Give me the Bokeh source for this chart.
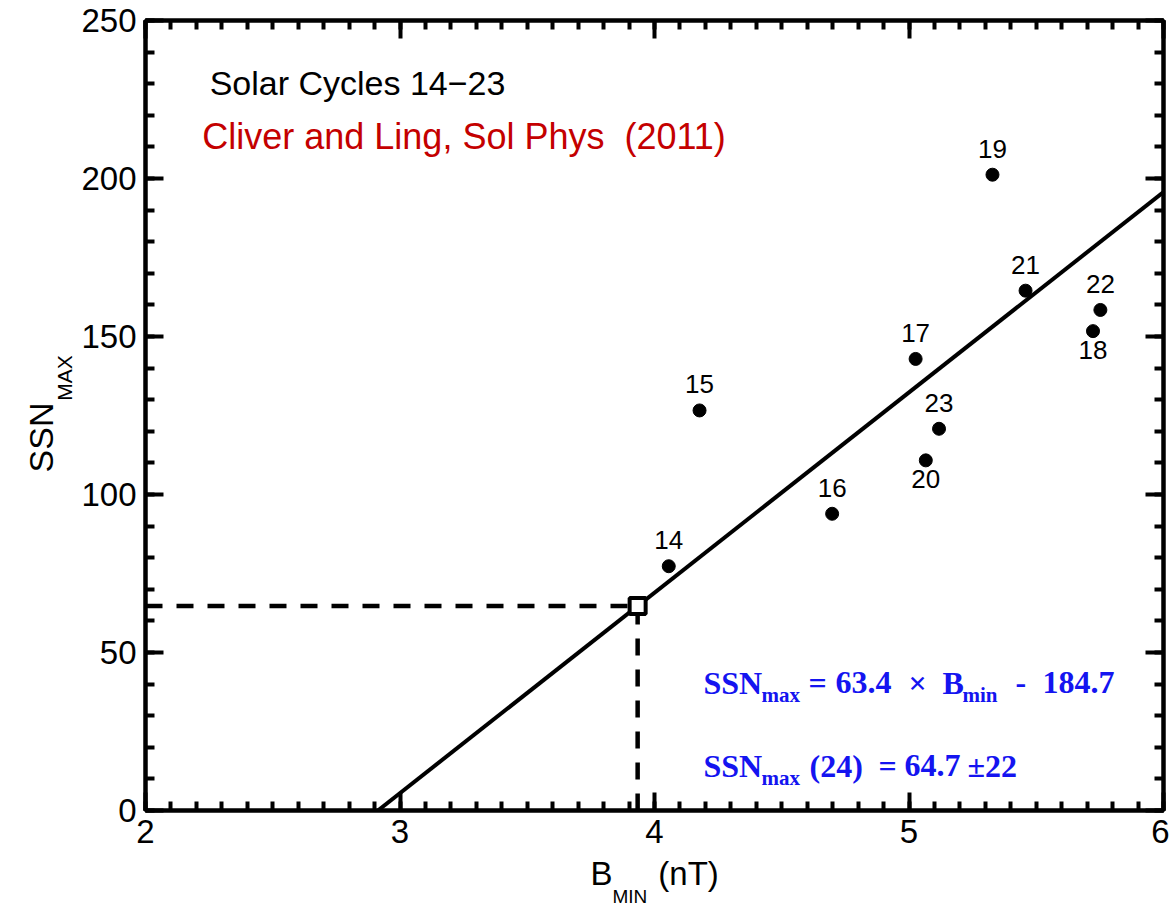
import math
from bokeh.plotting import figure
from bokeh.models import (Range1d, LinearAxis, SingleIntervalTicker, Label,
                          ColumnDataSource, CustomJSTickFormatter)
from bokeh.core.properties import value
from bokeh.embed import file_html
from bokeh.resources import INLINE

# Solar cycles 14-23: minimum interplanetary field strength vs. peak sunspot number
cycles = ["14", "15", "16", "17", "18", "19", "20", "21", "22", "23"]
b_min = [4.056, 4.177, 4.698, 5.026, 5.723, 5.328, 5.066, 5.458, 5.752, 5.118]
ssn_max = [77.3, 126.6, 93.9, 142.9, 151.7, 201.2, 110.8, 164.5, 158.4, 120.8]
label_side = ["above", "above", "above", "above", "below",
              "above", "below", "above", "above", "above"]

# linear fit SSNmax = slope * Bmin + intercept, and the cycle-24 prediction
fit_slope = 63.4
fit_intercept = -184.7
ssn24 = 64.7
ssn24_err = 22

x_ticks = [2, 3, 4, 5, 6]
y_ticks = [0, 50, 100, 150, 200, 250]

SANS = "Liberation Sans"
SERIF = "Liberation Serif"
BLUE = "#1414F0"
RED = "#C40000"
NBSP = "\u00a0"

p = figure(width=1169, height=908,
           x_range=Range1d(x_ticks[0], x_ticks[-1]),
           y_range=Range1d(y_ticks[0], y_ticks[-1]),
           output_backend="svg", toolbar_location=None,
           min_border_left=145, min_border_right=6,
           min_border_top=20, min_border_bottom=98)
p.xgrid.visible = False
p.ygrid.visible = False
p.outline_line_color = "black"
p.outline_line_width = 4
p.background_fill_color = "white"
p.border_fill_color = "white"


def style_axis(ax, interval, minor, labelled):
    ax.ticker = SingleIntervalTicker(interval=interval, num_minor_ticks=minor)
    ax.axis_line_width = 4
    ax.axis_line_color = "black"
    ax.major_tick_in = 18
    ax.major_tick_out = 0
    ax.minor_tick_in = 9
    ax.minor_tick_out = 0
    ax.major_tick_line_width = 4
    ax.minor_tick_line_width = 4
    if labelled:
        ax.major_label_text_font = SANS
        ax.major_label_text_font_size = "33px"
        ax.major_label_text_color = "black"
        ax.major_label_standoff = 9
    else:
        ax.formatter = CustomJSTickFormatter(code="return ''")
        ax.major_label_text_font_size = "1px"
        ax.major_label_standoff = 0


style_axis(p.xaxis[0], 1, 10, True)
style_axis(p.yaxis[0], 50, 5, True)
top = LinearAxis()
right = LinearAxis()
style_axis(top, 1, 10, False)
style_axis(right, 50, 5, False)
p.add_layout(top, "above")
p.add_layout(right, "right")

# regression line drawn across the frame from SSN = 0 to the right edge
x_start = -fit_intercept / fit_slope
x_end = x_ticks[-1]
fit_x = [x_start, x_end]
fit_y = [fit_slope * v + fit_intercept for v in fit_x]

# B value at which the fit gives the predicted cycle-24 maximum
b24 = (ssn24 - fit_intercept) / fit_slope

p.line([x_ticks[0], b24], [ssn24, ssn24], line_color="black",
       line_width=4.5, line_dash="17 14")
p.line([b24, b24], [y_ticks[0], ssn24], line_color="black",
       line_width=4.5, line_dash="17 14")
p.line(fit_x, fit_y, line_color="black", line_width=4)
p.scatter([b24], [ssn24], marker="square", size=16, fill_color="white",
          line_color="black", line_width=4)

src = ColumnDataSource(dict(x=b_min, y=ssn_max, name=cycles,
                            dy=[-26 if s == "above" else 19 for s in label_side]))
p.scatter("x", "y", source=src, size=13, color="black")
p.text("x", "y", text="name", source=src, y_offset="dy",
       text_align="center", text_baseline="alphabetic",
       text_font=value(SANS), text_font_size="26px", text_color="black")


def put(txt, x, y, size, font=SANS, color="black", bold=False, angle=0.0,
        place="center"):
    p.add_layout(Label(x=x, y=y, text=txt, text_font=font,
                       text_font_size=size, text_color=color,
                       text_font_style="bold" if bold else "normal",
                       text_align="left", text_baseline="alphabetic",
                       angle=angle), place)


# titles
put("Solar Cycles 14\u221223", 2.252, 230.3, "34px")
put("Cliver and Ling, Sol Phys" + NBSP + " (2011)", 2.223, 213.4, "36px", color=RED)

# fit equation
y1, y1s = 40.5, 36.7
put("SSN", 4.1925, y1, "32px", SERIF, BLUE, True)
put("max", 4.4204, y1s, "21px", SERIF, BLUE, True)
put("=", 4.6051, y1, "32px", SERIF, BLUE, True)
put(f"{fit_slope}", 4.7112, y1, "32px", SERIF, BLUE, True)
put("\u00d7", 4.998, y1, "32px", SERIF, BLUE, True)
put("B", 5.1316, y1, "32px", SERIF, BLUE, True)
put("min", 5.210, y1s, "21px", SERIF, BLUE, True)
put("-", 5.4185, y1, "32px", SERIF, BLUE, True)
put(f"{-fit_intercept}", 5.5246, y1, "32px", SERIF, BLUE, True)

# cycle-24 prediction
y2, y2s = 14.2, 10.4
put("SSN", 4.1925, y2, "32px", SERIF, BLUE, True)
put("max", 4.4204, y2s, "21px", SERIF, BLUE, True)
put("(24)", 4.609, y2, "32px", SERIF, BLUE, True)
put("=", 4.880, y2, "32px", SERIF, BLUE, True)
put(f"{ssn24}", 4.982, y2, "32px", SERIF, BLUE, True)
put(f"\u00b1{ssn24_err}", 5.230, y2, "32px", SERIF, BLUE, True)

# axis titles with subscripts; side-panel placement keeps them outside the clip
put("B" + NBSP * 5 + "(nT)", 3.7485, -19.8, "33px", place="below")
put("MIN", 3.8350, -27.2, "19px", place="below")
put("SSN", 1.5884, 107.0, "34px", angle=math.pi / 2, place="left")
put("MAX", 1.6821, 129.7, "21px", angle=math.pi / 2, place="left")

open("out.html", "w").write(file_html(p, INLINE))
